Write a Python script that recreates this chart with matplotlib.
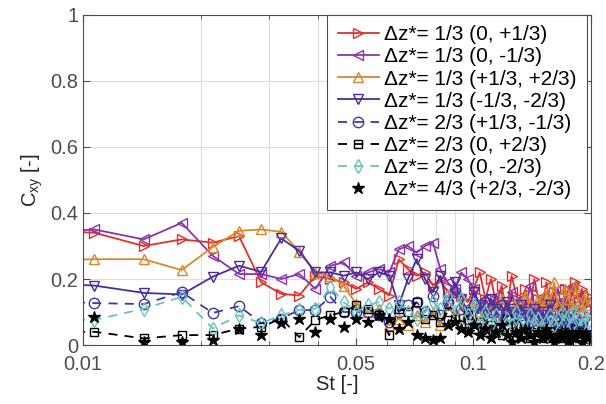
import numpy as np
import matplotlib
matplotlib.use('Agg')
import matplotlib.pyplot as plt
from matplotlib.ticker import FixedLocator, NullFormatter

plt.rcParams['font.family'] = ['Liberation Sans', 'DejaVu Sans']

st = [0.0072, 0.0107, 0.0143, 0.0179, 0.0215, 0.0251, 0.0286, 0.0322, 0.0358, 0.0394,
      0.0430, 0.0465, 0.0501, 0.0537, 0.0573, 0.0609, 0.0644, 0.0680, 0.0716, 0.0752,
      0.0788, 0.0823, 0.0859, 0.0895, 0.0931, 0.0967, 0.1002, 0.1038, 0.1074, 0.1110,
      0.1146, 0.1181, 0.1217, 0.1253, 0.1289, 0.1325, 0.1360, 0.1396, 0.1432, 0.1468,
      0.1504, 0.1539, 0.1575, 0.1611, 0.1647, 0.1683, 0.1718, 0.1754, 0.1790, 0.1826,
      0.1862, 0.1897, 0.1933, 0.1969]

c_red = [0.35, 0.34, 0.30, 0.32, 0.31, 0.33, 0.19, 0.155, 0.15, 0.21,
         0.20, 0.19, 0.17, 0.19, 0.17, 0.15, 0.26, 0.23, 0.21, 0.22,
         0.18, 0.20, 0.16, 0.16, 0.15, 0.13, 0.17, 0.22, 0.14, 0.20,
         0.12, 0.18, 0.10, 0.21, 0.15, 0.13, 0.17, 0.11, 0.20, 0.14,
         0.12, 0.19, 0.11, 0.16, 0.13, 0.10, 0.17, 0.12, 0.15, 0.19,
         0.13, 0.17, 0.12, 0.15]
c_purple = [0.34, 0.35, 0.32, 0.37, 0.27, 0.215, 0.215, 0.20, 0.215, 0.17,
            0.24, 0.25, 0.21, 0.22, 0.23, 0.22, 0.29, 0.30, 0.28, 0.30,
            0.31, 0.23, 0.19, 0.17, 0.22, 0.20, 0.17, 0.12, 0.14, 0.10,
            0.15, 0.12, 0.08, 0.16, 0.11, 0.14, 0.09, 0.18, 0.12, 0.10,
            0.15, 0.13, 0.09, 0.12, 0.17, 0.11, 0.14, 0.08, 0.18, 0.12,
            0.10, 0.15, 0.11, 0.13]
c_orange = [0.255, 0.26, 0.26, 0.227, 0.297, 0.346, 0.35, 0.343, 0.283, 0.218,
            0.21, 0.18, 0.125, 0.10, 0.11, 0.06, 0.08, 0.06, 0.09, 0.07,
            0.10, 0.06, 0.12, 0.09, 0.11, 0.08, 0.13, 0.10, 0.07, 0.12,
            0.09, 0.14, 0.11, 0.08, 0.13, 0.10, 0.15, 0.12, 0.09, 0.14,
            0.11, 0.16, 0.13, 0.19, 0.12, 0.10, 0.17, 0.14, 0.11, 0.18,
            0.13, 0.10, 0.15, 0.12]
c_indigo = [0.19, 0.18, 0.158, 0.153, 0.207, 0.24, 0.222, 0.323, 0.285, 0.22,
            0.22, 0.21, 0.22, 0.20, 0.22, 0.21, 0.12, 0.20, 0.26, 0.20,
            0.16, 0.21, 0.12, 0.19, 0.14, 0.10, 0.16, 0.12, 0.09, 0.14,
            0.11, 0.08, 0.13, 0.10, 0.07, 0.12, 0.09, 0.06, 0.11, 0.08,
            0.10, 0.07, 0.12, 0.08, 0.05, 0.10, 0.07, 0.09, 0.05, 0.08,
            0.06, 0.04, 0.07, 0.03]
c_circle = [0.135, 0.127, 0.124, 0.16, 0.097, 0.118, 0.067, 0.08, 0.106, 0.106,
            0.146, 0.10, 0.10, 0.10, 0.09, 0.07, 0.10, 0.12, 0.13, 0.10,
            0.15, 0.09, 0.13, 0.16, 0.11, 0.08, 0.12, 0.09, 0.13, 0.07,
            0.10, 0.12, 0.08, 0.11, 0.06, 0.09, 0.10, 0.07, 0.08, 0.05,
            0.09, 0.06, 0.08, 0.04, 0.07, 0.05, 0.08, 0.06, 0.03, 0.05,
            0.04, 0.06, 0.03, 0.02]
c_square = [0.04, 0.04, 0.02, 0.03, 0.03, 0.05, 0.055, 0.08, 0.024, 0.076,
            0.09, 0.10, 0.12, 0.11, 0.09, 0.03, 0.11, 0.10, 0.13, 0.08,
            0.09, 0.07, 0.10, 0.08, 0.06, 0.09, 0.05, 0.07, 0.04, 0.06,
            0.05, 0.03, 0.08, 0.04, 0.06, 0.03, 0.05, 0.02, 0.04, 0.03,
            0.05, 0.02, 0.04, 0.03, 0.06, 0.02, 0.04, 0.01, 0.03, 0.05,
            0.02, 0.04, 0.01, 0.03]
c_teal = [0.076, 0.076, 0.11, 0.146, 0.05, 0.09, 0.066, 0.09, 0.106, 0.11,
          0.176, 0.13, 0.10, 0.12, 0.13, 0.11, 0.13, 0.10, 0.08, 0.10,
          0.13, 0.11, 0.15, 0.10, 0.14, 0.09, 0.12, 0.07, 0.10, 0.06,
          0.09, 0.05, 0.08, 0.06, 0.10, 0.07, 0.05, 0.09, 0.06, 0.08,
          0.05, 0.07, 0.09, 0.06, 0.08, 0.10, 0.07, 0.09, 0.06, 0.10,
          0.08, 0.06, 0.09, 0.07]
c_star = [0.09, 0.085, 0.01, 0.01, 0.015, 0.05, 0.03, 0.066, 0.078, 0.04,
          0.08, 0.055, 0.08, 0.07, 0.09, 0.08, 0.05, 0.07,
          0.03, 0.02, 0.015, 0.02, 0.06, 0.07, 0.05, 0.04, 0.06, 0.03,
          0.05, 0.02, 0.04, 0.06, 0.03, 0.01, 0.04, 0.02, 0.05, 0.03,
          0.01, 0.04, 0.02, 0.05, 0.03, 0.01, 0.03, 0.02, 0.04, 0.01,
          0.03, 0.02, 0.04, 0.01, 0.03, 0.02]

labels = ['\u0394z*= 1/3 (0, +1/3)', '\u0394z*= 1/3 (0, -1/3)',
          '\u0394z*= 1/3 (+1/3, +2/3)', '\u0394z*= 1/3 (-1/3, -2/3)',
          '\u0394z*= 2/3 (+1/3, -1/3)', '\u0394z*= 2/3 (0, +2/3)',
          '\u0394z*= 2/3 (0, -2/3)', '\u0394z*= 4/3 (+2/3, -2/3)']

fig = plt.figure(figsize=(6.06, 4.04), dpi=100)
ax = fig.add_axes([0.137, 0.146, 0.838, 0.817])

ms = 7.5
ax.plot(st, c_red, '-', color='#E0302A', marker='>', ms=ms, mfc='none', lw=1.3, label=labels[0])
ax.plot(st, c_purple, '-', color='#8A35A8', marker='<', ms=ms, mfc='none', lw=1.3, label=labels[1])
ax.plot(st, c_orange, '-', color='#D8872A', marker='^', ms=ms, mfc='none', lw=1.3, label=labels[2])
ax.plot(st, c_indigo, '-', color='#4C2C9C', marker='v', ms=ms, mfc='none', lw=1.3, label=labels[3])
ax.plot(st, c_circle, '--', color='#3D3AA5', marker='o', ms=ms, mfc='none', lw=1.3, dashes=(5, 4), label=labels[4])
ax.plot(st, c_square, '--', color='black', marker='s', ms=6, mfc='none', lw=1.3, dashes=(5, 4), label=labels[5])
ax.plot(st, c_teal, '--', color='#6CC3BE', marker='d', ms=ms, mfc='none', lw=1.3, dashes=(5, 4), label=labels[6])
ax.plot(st, c_star, linestyle='none', color='black', marker='*', ms=9, label=labels[7])

ax.set_xscale('log')
ax.set_xlim(0.01, 0.2)
ax.set_ylim(0, 1)
ax.xaxis.set_major_locator(FixedLocator([0.01, 0.05, 0.1, 0.2]))
ax.set_xticklabels(['0.01', '0.05', '0.1', '0.2'])
ax.xaxis.set_minor_locator(FixedLocator([0.02, 0.03, 0.04, 0.06, 0.07, 0.08, 0.09]))
ax.xaxis.set_minor_formatter(NullFormatter())
ax.set_yticks([0, 0.2, 0.4, 0.6, 0.8, 1])
ax.set_yticklabels(['0', '0.2', '0.4', '0.6', '0.8', '1'])
ax.grid(True, which='major', color='#DDDDDD', lw=0.8)
ax.grid(True, which='minor', axis='x', color='#DDDDDD', lw=0.8)
ax.set_axisbelow(True)
ax.tick_params(which='both', direction='in', top=True, right=True, labelsize=14.5,
               colors='#4D4D4D', labelcolor='#4D4D4D')
ax.tick_params(which='major', length=5)
ax.tick_params(which='minor', length=3)
ax.tick_params(axis='x', pad=7)
for s in ax.spines.values():
    s.set_color('#4D4D4D')

ax.set_xlabel('St [-]', fontsize=14.5, color='#262626', labelpad=1)
ax.set_ylabel('C$_\\mathregular{xy}$ [-]', fontsize=14.5, color='#262626', labelpad=4)

leg = ax.legend(loc='upper right', bbox_to_anchor=(0.993, 1.0), fontsize=15,
                frameon=True, fancybox=False, edgecolor='#4D4D4D',
                handlelength=2.0, handletextpad=0.25, labelspacing=0.15,
                borderpad=0.5, borderaxespad=0.0, framealpha=1)
leg.get_frame().set_linewidth(0.8)

fig.savefig('out.png', dpi=100)
